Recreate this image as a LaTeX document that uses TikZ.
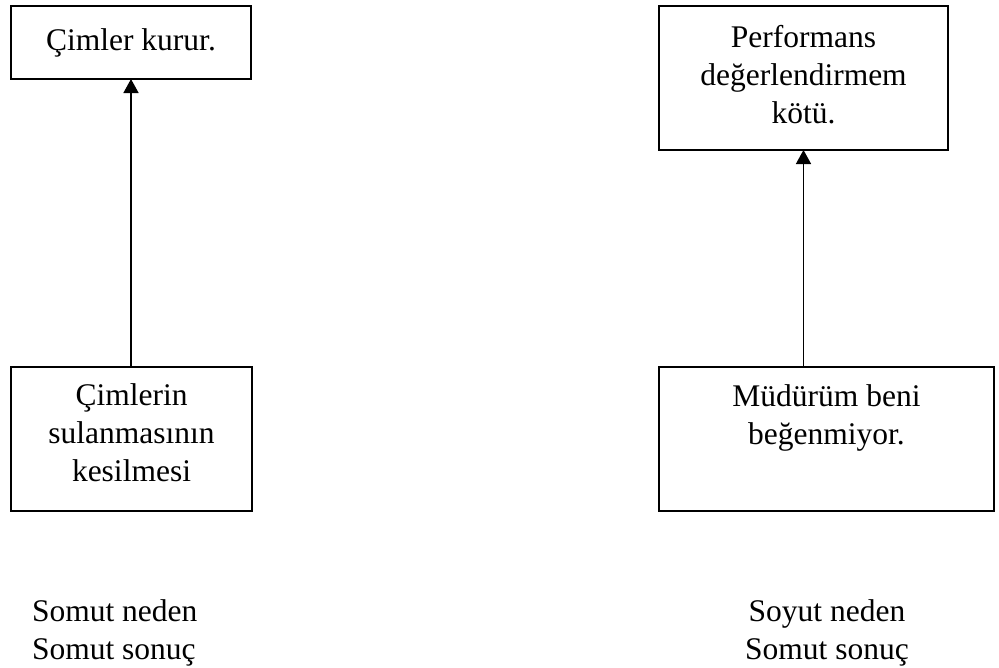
\documentclass[tikz,border=0pt]{standalone}
\usepackage{fontspec}
\setmainfont{Liberation Serif}
\usetikzlibrary{arrows.meta}
% width, height, offset of the first baseline from the top, text
\newcommand{\boxtext}[4]{\parbox[t][#2][t]{#1}{\centering\rule{0pt}{#3}#4}}
\begin{document}
\begin{tikzpicture}[x=1pt, y=-1pt,
  font=\fontsize{31.5pt}{38pt}\selectfont,
  box/.style={draw, line width=2pt, inner sep=0pt, outer sep=0pt, anchor=north west},
  link/.style={line width=1.5pt, -{Triangle[width=15pt,length=14pt]}},
  note/.style={inner sep=0pt, outer sep=0pt}]
\useasboundingbox (0,0) rectangle (999,667);

% effects (top) and causes (bottom)
\node[box] (tl) at (11,6) {\boxtext{240pt}{73pt}{44pt}{Çimler kurur.}};
\node[box] (tr) at (659,6) {\boxtext{289pt}{144pt}{41pt}{Performans\\değerlendirmem\\kötü.}};
\node[box] (bl) at (11,367) {\boxtext{241pt}{144pt}{38pt}{Çimlerin\\sulanmasının\\kesilmesi}};
\node[box] (br) at (659,367) {\boxtext{335pt}{144pt}{39pt}{Müdürüm beni\\beğenmiyor.}};

% cause -> effect
\draw[link] (bl.north -| tl.south) -- (tl.south);
\draw[link] (br.north -| tr.south) -- (tr.south);

% captions
\node[note, anchor=base west] (ln) at (32,621)
  {\parbox[t]{200pt}{\raggedright Somut neden\\Somut sonuç}};
\node[note, anchor=base] (rn) at (827,621)
  {\parbox[t]{250pt}{\centering Soyut neden\\Somut sonuç}};
\end{tikzpicture}
\end{document}
